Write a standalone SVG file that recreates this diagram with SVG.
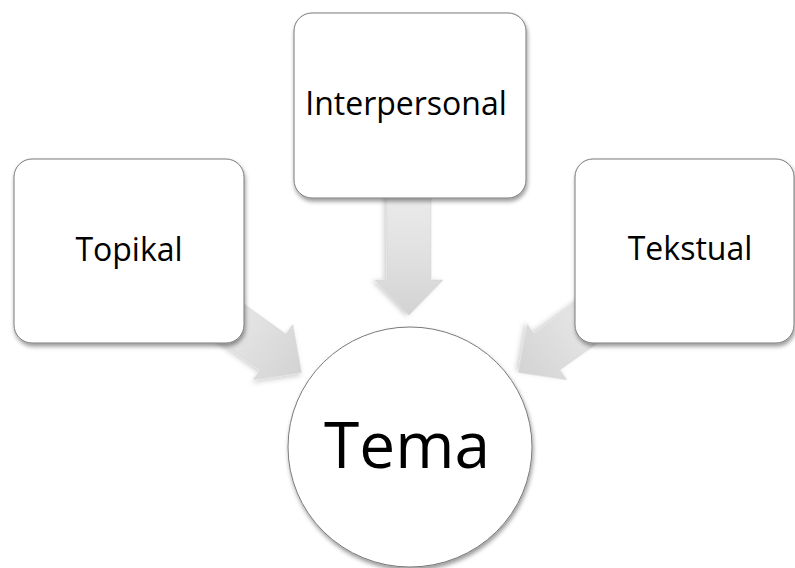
<svg xmlns="http://www.w3.org/2000/svg" width="795" height="568" viewBox="0 0 795 568">
  <defs>
    <linearGradient id="arrowGrad" gradientUnits="userSpaceOnUse" x1="-150" y1="0" x2="0" y2="0">
      <stop offset="0" stop-color="#f0f0f0"/>
      <stop offset="0.55" stop-color="#e2e2e2"/>
      <stop offset="1" stop-color="#d3d3d3"/>
    </linearGradient>
    <filter id="shadow" x="-20%" y="-20%" width="140%" height="140%">
      <feDropShadow dx="1" dy="3" stdDeviation="2.2" flood-color="#000" flood-opacity="0.4"/>
    </filter>
    <filter id="arrowShadow" x="-30%" y="-30%" width="160%" height="160%">
      <feDropShadow dx="1" dy="3" stdDeviation="2.5" flood-color="#000" flood-opacity="0.18"/>
    </filter>
    <path id="arrowShape" d="M0,0 L-35,-34 L-35,-22 L-150,-22 L-150,22 L-35,22 L-35,34 Z"/>
  </defs>
  <style>
    .box { fill: #ffffff; stroke: #7a7a7a; stroke-width: 1; filter: url(#shadow); }
    .arrow { fill: url(#arrowGrad); stroke: #d0d0d0; stroke-width: 0.5; filter: url(#arrowShadow); }
    .lbl { font-family: "Open Sans", "Noto Sans", "Liberation Sans", sans-serif; font-size: 32px; fill: #000000; text-anchor: middle; }
    .big { font-size: 64px; }
  </style>
  <rect width="795" height="568" fill="#ffffff"/>

  <g id="connectors">
    <use href="#arrowShape" class="arrow" transform="translate(301.5,372.5) rotate(35.6)"/>
    <use href="#arrowShape" class="arrow" transform="translate(409,315) rotate(90)"/>
    <use href="#arrowShape" class="arrow" transform="translate(518.5,372.5) rotate(144.4)"/>
  </g>

  <g id="topikal">
    <rect class="box" x="14" y="159" width="230" height="184" rx="18" ry="18"/>
    <text class="lbl" x="129" y="261">Topikal</text>
  </g>

  <g id="interpersonal">
    <rect class="box" x="294" y="13" width="232" height="185" rx="18" ry="18"/>
    <text class="lbl" x="406" y="115">Interpersonal</text>
  </g>

  <g id="tekstual">
    <rect class="box" x="575" y="159" width="219" height="184" rx="18" ry="18"/>
    <text class="lbl" x="690" y="260">Tekstual</text>
  </g>

  <g id="tema">
    <ellipse class="box" cx="410" cy="447" rx="122" ry="120"/>
    <text class="lbl big" x="407" y="468">Tema</text>
  </g>
</svg>
